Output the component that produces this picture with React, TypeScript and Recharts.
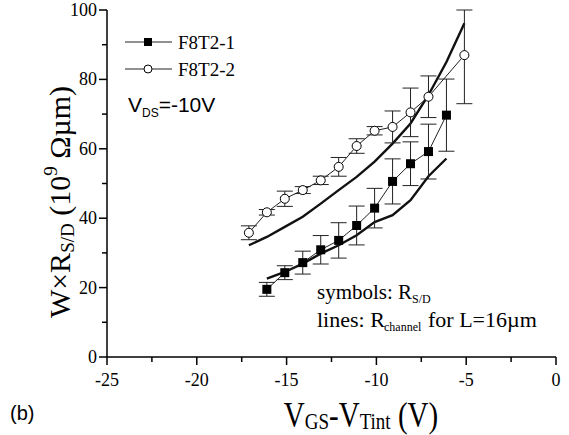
import React from "react";
import { ComposedChart, Line, XAxis, YAxis, ErrorBar } from "recharts";

// gate voltage offsets (V_GS - V_Tint)
const xValues = [-17.1, -16.1, -15.1, -14.1, -13.1, -12.1, -11.1, -10.1, -9.1, -8.1, -7.1, -6.1, -5.1];
// symbols: R_S/D
const f8t2_1 = [null, 19.5, 24.3, 27.2, 30.9, 33.6, 37.9, 42.9, 50.6, 55.7, 59.2, 69.7, null];
const f8t2_1Err = [null, 2, 2, 3.3, 4.1, 5.1, 5.6, 5.7, 6.5, 6.3, 7.9, 10.4, null];
const f8t2_2 = [35.8, 41.7, 45.6, 48.1, 50.9, 54.8, 60.8, 65.2, 66.3, 70.5, 75.0, null, 87.0];
const f8t2_2Err: (number | number[] | null)[] = [2, 0.8, 2.2, 1, 1.2, 2.7, 2.1, 1.2, 4.6, 7, 6, null, [14, 13]];
// lines: R_channel for L=16um
const channel1 = [null, 22.6, 24.5, 26.9, 29.8, 32.2, 35.1, 38.9, 40.9, 45.2, 52.1, 57.2, null];
const channel2 = [32.2, 34.6, 37.5, 40.4, 44.2, 48.1, 51.9, 56.3, 61.5, 67.3, 75.5, 85, 96.2];

const xTicks = [-25, -22.5, -20, -17.5, -15, -12.5, -10, -7.5, -5, -2.5, 0];
const yTicks = [0, 10, 20, 30, 40, 50, 60, 70, 80, 90, 100];

const data = xValues.map((x, i) => ({
  x,
  s1: f8t2_1[i],
  s1Err: f8t2_1Err[i],
  s2: f8t2_2[i],
  s2Err: f8t2_2Err[i],
  c1: channel1[i],
  c2: channel2[i],
}));

const SERIF = "'Liberation Serif', 'Times New Roman', serif";
const SANS = "'Liberation Sans', Arial, sans-serif";

const isMajor = (v: number, step: number) => Math.abs(v % step) < 1e-6;

const BottomTick = (props: any) => {
  const { x, y, payload } = props;
  const major = isMajor(payload.value, 5);
  return (
    <g>
      <line x1={x} y1={y} x2={x} y2={y + (major ? 8 : 5)} stroke="#000" strokeWidth={1.5} />
      {major && (
        <text x={x} y={y + 29} textAnchor="middle" fontFamily={SERIF} fontSize={18} fill="#000">
          {payload.value}
        </text>
      )}
    </g>
  );
};

const TopTick = (props: any) => {
  const { x, y, payload } = props;
  const major = isMajor(payload.value, 5);
  return <line x1={x} y1={y} x2={x} y2={y + (major ? 8 : 5)} stroke="#000" strokeWidth={1.5} />;
};

const LeftTick = (props: any) => {
  const { x, y, payload } = props;
  const major = isMajor(payload.value, 20);
  return (
    <g>
      <line x1={x} y1={y} x2={x - (major ? 8 : 5)} y2={y} stroke="#000" strokeWidth={1.5} />
      {major && (
        <text x={x - 10} y={y + 6} textAnchor="end" fontFamily={SERIF} fontSize={18} fill="#000">
          {payload.value}
        </text>
      )}
    </g>
  );
};

const squareDot = (props: any) => {
  const { cx, cy, index } = props;
  if (cx == null || cy == null || props.value == null) return <g key={`sq-${index}`} />;
  return <rect key={`sq-${index}`} x={cx - 4.5} y={cy - 4.5} width={9} height={9} fill="#000" />;
};

const circleDot = (props: any) => {
  const { cx, cy, index } = props;
  if (cx == null || cy == null || props.value == null) return <g key={`ci-${index}`} />;
  return <circle key={`ci-${index}`} cx={cx} cy={cy} r={4.5} fill="#fff" stroke="#000" strokeWidth={1} />;
};

export default function App() {
  return (
    <div style={{ position: "absolute", left: 0, top: 0, width: 569, height: 435, background: "#fff" }}>
      <ComposedChart width={569} height={435} data={data} margin={{ top: 10, right: 13, bottom: 48, left: 0 }}>
        <XAxis
          dataKey="x"
          type="number"
          domain={[-25, 0]}
          ticks={xTicks}
          interval={0}
          height={30}
          tickSize={0}
          tickMargin={0}
          tick={<BottomTick />}
          axisLine={{ stroke: "#000", strokeWidth: 1.5 }}
        />
        <XAxis
          xAxisId="top"
          dataKey="x"
          type="number"
          orientation="top"
          domain={[-25, 0]}
          ticks={xTicks}
          interval={0}
          height={0}
          tickSize={0}
          tickMargin={0}
          tick={<TopTick />}
          axisLine={{ stroke: "#000", strokeWidth: 1.5 }}
        />
        <YAxis
          type="number"
          domain={[0, 100]}
          ticks={yTicks}
          interval={0}
          width={107}
          tickSize={0}
          tickMargin={0}
          tick={<LeftTick />}
          axisLine={{ stroke: "#000", strokeWidth: 1.5 }}
        />
        <YAxis
          yAxisId="right"
          orientation="right"
          type="number"
          domain={[0, 100]}
          width={0}
          tick={false}
          tickLine={false}
          axisLine={{ stroke: "#000", strokeWidth: 1.5 }}
        />
        <Line dataKey="c2" type="linear" stroke="#111" strokeWidth={2.4} dot={false} isAnimationActive={false} />
        <Line dataKey="c1" type="linear" stroke="#111" strokeWidth={2.4} dot={false} isAnimationActive={false} />
        <Line
          dataKey="s1"
          type="linear"
          stroke="#222"
          strokeWidth={1}
          dot={squareDot}
          isAnimationActive={false}
        >
          <ErrorBar dataKey="s1Err" direction="y" width={8} stroke="#222" strokeWidth={1} />
        </Line>
        <Line
          dataKey="s2"
          type="linear"
          stroke="#222"
          strokeWidth={1}
          connectNulls
          dot={circleDot}
          isAnimationActive={false}
        >
          <ErrorBar dataKey="s2Err" direction="y" width={8} stroke="#222" strokeWidth={1} />
        </Line>
      </ComposedChart>
      <svg
        width={569}
        height={435}
        style={{ position: "absolute", left: 0, top: 0, pointerEvents: "none" }}
      >
        {/* legend */}
        <line x1={125} y1={42} x2={172} y2={42} stroke="#222" strokeWidth={1} />
        <rect x={144} y={38} width={8} height={8} fill="#000" />
        <text x={178} y={49} fontFamily={SERIF} fontSize={19} fill="#000">F8T2-1</text>
        <line x1={125} y1={69} x2={172} y2={69} stroke="#222" strokeWidth={1} />
        <circle cx={148} cy={69} r={4} fill="#fff" stroke="#000" strokeWidth={1} />
        <text x={178} y={76} fontFamily={SERIF} fontSize={19} fill="#000">F8T2-2</text>

        <text x={128} y={112} fontFamily={SANS} fontSize={21} fill="#000">
          V<tspan fontSize={12} dy={5}>DS</tspan>
          <tspan dy={-5}>=-10V</tspan>
        </text>

        <text x={317} y={299} fontFamily={SERIF} fontSize={21} fill="#000">
          symbols: R<tspan fontSize={12} dy={4}>S/D</tspan>
        </text>
        <g fontFamily={SERIF} fill="#000">
          <text x={317} y={327} fontSize={22}>lines: R</text>
          <text x={384} y={331} fontSize={12}>channel</text>
          <text x={428} y={327} fontSize={22}>for L=16µm</text>
        </g>

        {/* axis titles */}
        <g transform="translate(361,427) scale(1,1.2)">
          <text x={0} y={0} textAnchor="middle" fontFamily={SERIF} fontSize={29} fill="#000">
            V<tspan fontSize={19} dy={2}>GS</tspan>
            <tspan dy={-2}>-V</tspan>
            <tspan fontSize={19} dy={2}>Tint</tspan>
            <tspan dy={-2}> (V)</tspan>
          </text>
        </g>
        <text
          x={0}
          y={0}
          transform="translate(70,202) rotate(-90)"
          textAnchor="middle"
          fontFamily={SERIF}
          fontSize={30}
          fill="#000"
        >
          W×R<tspan fontSize={19} dy={4}>S/D</tspan>
          <tspan dy={-4}> (10</tspan>
          <tspan fontSize={19} dy={-13}>9</tspan>
          <tspan dy={13}> Ωµm)</tspan>
        </text>

        <text x={10} y={420} fontFamily={SANS} fontSize={20} fill="#000">(b)</text>
      </svg>
    </div>
  );
}
